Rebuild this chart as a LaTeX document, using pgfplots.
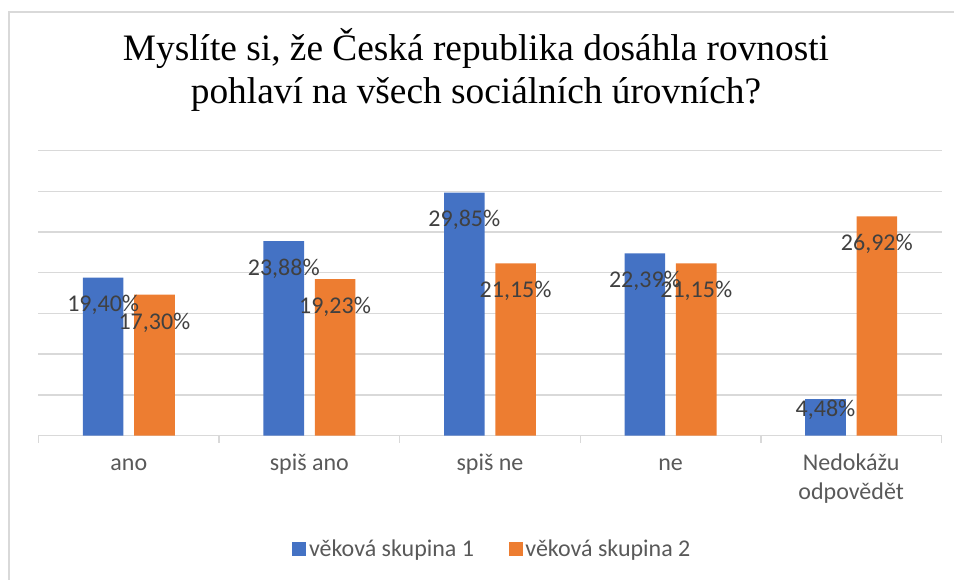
\documentclass[border=0pt]{standalone}
\usepackage{pgfplots}
\pgfplotsset{compat=1.18}
\usepackage{fontspec}
\setmainfont{Carlito}
\newfontfamily\titlefont{Liberation Serif}
\definecolor{cblue}{HTML}{4472C4}
\definecolor{corange}{HTML}{ED7D31}
\definecolor{cgrid}{HTML}{D9D9D9}
\definecolor{ctext}{HTML}{595959}
\definecolor{clabel}{HTML}{404040}
\newcommand{\lblfont}{\fontsize{18pt}{22pt}\selectfont}
\begin{document}
\begin{tikzpicture}
\path[use as bounding box] (-28.875pt,-107.625pt) rectangle (686.625pt,326.625pt);
\draw[cgrid, line width=1.1pt] (-22.125pt,-108pt) -- (-22.125pt,317.625pt) -- (687pt,317.625pt);
\begin{axis}[
  at={(0,0)}, anchor=south west,
  scale only axis, width=677.25pt, height=213.6pt,
  xmin=-0.5, xmax=4.5, ymin=0, ymax=35,
  clip=false,
  axis lines*=left,
  y axis line style={draw=none},
  x axis line style={cgrid, line width=1.1pt},
  ytick={0,5,...,35}, yticklabels={},
  ymajorgrids, grid style={cgrid, line width=1.1pt},
  ytick style={draw=none},
  xtick={0,...,4},
  xticklabels={\strut ano, \strut spiš ano, \strut spiš ne, \strut ne, {\strut Nedokážu\\\strut odpovědět}},
  minor xtick={-0.5,0.5,...,4.5},
  major tick length=0pt, minor tick length=5.25pt, tick align=outside,
  minor x tick style={cgrid, line width=1.1pt},
  xticklabel style={font=\lblfont, text=ctext, align=center, anchor=north, yshift=-7pt},
  legend style={at={(axis description cs:0.503,-0.3985)}, anchor=center, draw=none, fill=none,
    font=\lblfont, text=ctext, inner sep=0pt,
    /tikz/every even column/.append style={column sep=24pt}},
  legend columns=2,
  legend image code/.code={\fill[#1] (0pt,-5.25pt) rectangle (10.5pt,5.25pt);},
]
\addplot[ybar, bar width=30.45pt, bar shift=-19.24pt, fill=cblue, draw=none]
  coordinates {(0,19.40) (1,23.88) (2,29.85) (3,22.39) (4,4.48)};
\addlegendentry{věková skupina 1}
\addplot[ybar, bar width=30.45pt, bar shift=19.24pt, fill=corange, draw=none]
  coordinates {(0,17.30) (1,19.23) (2,21.15) (3,21.15) (4,26.92)};
\addlegendentry{věková skupina 2}
% data labels (positions of the label centres, x offset = bar shift in data units)
\addplot[forget plot, only marks, mark=*, mark size=0pt, draw=none, fill=none,
  nodes near coords, point meta=explicit symbolic,
  every node near coord/.append style={anchor=center, text=clabel, font=\lblfont, inner sep=0pt}]
  coordinates {(-0.142,16.0) [19,40\%] (0.858,20.48) [23,88\%] (1.858,26.45) [29,85\%] (2.858,19.0) [22,39\%] (3.858,3.2) [4,48\%]};
\addplot[forget plot, only marks, mark=*, mark size=0pt, draw=none, fill=none,
  nodes near coords, point meta=explicit symbolic,
  every node near coord/.append style={anchor=center, text=clabel, font=\lblfont, inner sep=0pt}]
  coordinates {(0.142,13.9) [17,30\%] (1.142,15.83) [19,23\%] (2.142,17.75) [21,15\%] (3.142,17.75) [21,15\%] (4.142,23.5) [26,92\%]};
\node[font=\titlefont\fontsize{28pt}{32.3pt}\selectfont, align=center, text=black]
  at (axis description cs:0.4845,1.283) {Myslíte si, že Česká republika dosáhla rovnosti\\pohlaví na všech sociálních úrovních?};
\end{axis}
\end{tikzpicture}
\end{document}
